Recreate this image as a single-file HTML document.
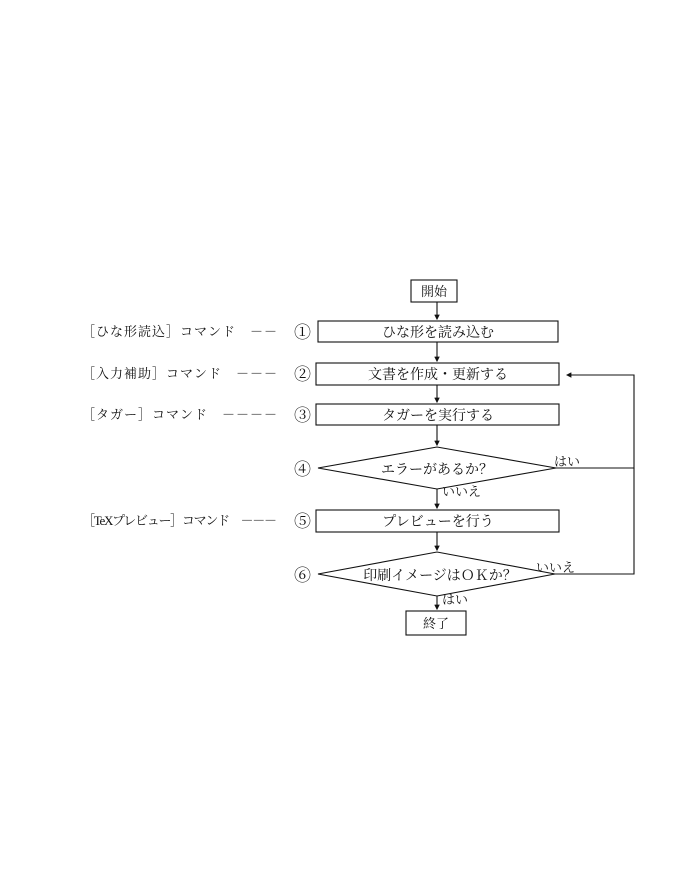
<!DOCTYPE html>
<html><head><meta charset="utf-8"><style>
html,body{margin:0;padding:0;background:#fff;}
svg{display:block;}
text{font-family:"Liberation Serif","Noto Serif CJK SC","Noto Sans CJK JP",serif;fill:#111;}
</style></head><body>
<svg width="680" height="880" viewBox="0 0 680 880" xmlns="http://www.w3.org/2000/svg">
<defs><marker id="a" markerWidth="5" markerHeight="5" refX="4" refY="2.5" orient="auto"><path d="M0,0 L5,2.5 L0,5 z" fill="#111"/></marker></defs>
<g stroke="#111" stroke-width="1.1" fill="none">
<rect x="411" y="280" width="46" height="22"/>
<rect x="318" y="321" width="240" height="21"/>
<rect x="316" y="363" width="243" height="22"/>
<rect x="316" y="404" width="243" height="21"/>
<polygon points="318,468 437,447 556,468 437,489"/>
<rect x="316" y="510" width="243" height="22"/>
<polygon points="318,574 437,552 555,574 437,596"/>
<rect x="406" y="611" width="60" height="24"/>
<line x1="437" y1="302" x2="437" y2="319" marker-end="url(#a)"/>
<line x1="437" y1="342" x2="437" y2="361" marker-end="url(#a)"/>
<line x1="437" y1="385" x2="437" y2="402" marker-end="url(#a)"/>
<line x1="437" y1="425" x2="437" y2="445" marker-end="url(#a)"/>
<line x1="437" y1="489" x2="437" y2="508" marker-end="url(#a)"/>
<line x1="437" y1="532" x2="437" y2="550" marker-end="url(#a)"/>
<line x1="437" y1="596" x2="437" y2="609" marker-end="url(#a)"/>
<polyline points="556,468 634,468 634,375 567,375" marker-end="url(#a)"/>
<polyline points="555,574 634,574 634,468"/>
</g>
<g font-size="14">
<text x="434" y="296" text-anchor="middle" font-size="13">開始</text>
<text x="438" y="337" text-anchor="middle">ひな形を読み込む</text>
<text x="438" y="379" text-anchor="middle">文書を作成・更新する</text>
<text x="438" y="420" text-anchor="middle">タガーを実行する</text>
<text x="437" y="474" text-anchor="middle">エラーがあるか？</text>
<text x="438" y="526" text-anchor="middle">プレビューを行う</text>
<text x="440" y="580" text-anchor="middle">印刷イメージはＯＫか？</text>
<text x="436" y="628" text-anchor="middle" font-size="13">終了</text>
<text x="554" y="466" font-size="13">はい</text>
<text x="442" y="496" font-size="13">いいえ</text>
<text x="536" y="572" font-size="13">いいえ</text>
<text x="442" y="604" font-size="13">はい</text>
<g font-size="17">
<text x="294" y="338">①</text>
<text x="294" y="380">②</text>
<text x="294" y="421">③</text>
<text x="294" y="475">④</text>
<text x="294" y="527">⑤</text>
<text x="294" y="581">⑥</text>
</g>
<text x="82" y="336" font-size="13" textLength="195">［ひな形読込］コマンド　－－</text>
<text x="82" y="378" font-size="13" textLength="195">［入力補助］コマンド　－－－</text>
<text x="82" y="419" font-size="13" textLength="195">［タガー］コマンド　－－－－</text>
<text x="82" y="525" font-size="13" textLength="195">［TeXプレビュー］コマンド　－－－</text>
</g>
</svg>
</body></html>
